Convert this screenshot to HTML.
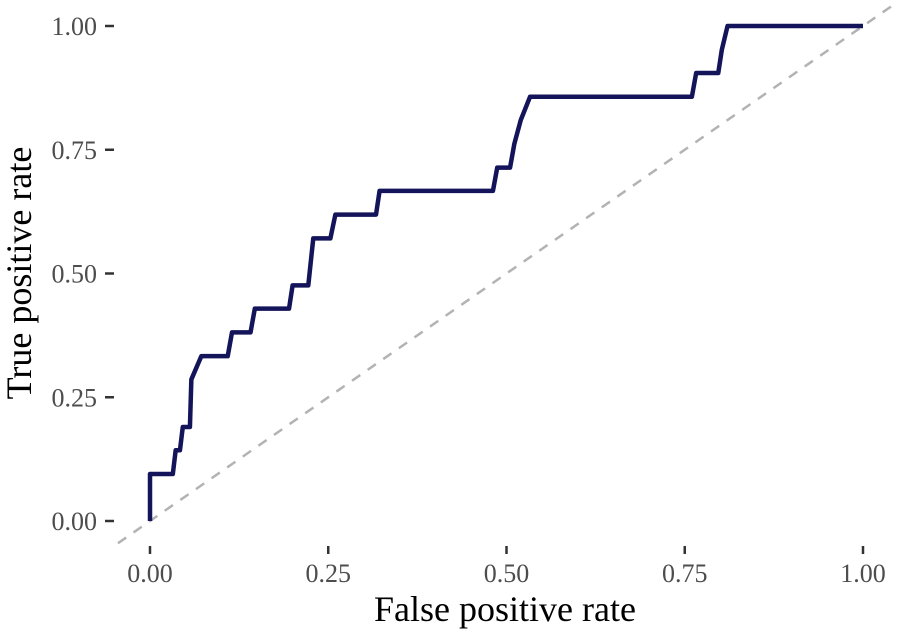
<!DOCTYPE html>
<html><head><meta charset="utf-8"><style>
body{margin:0;background:#fff}
svg text{font-family:"Liberation Serif",serif;fill:#4d4d4d}
</style></head><body>
<svg id="chart" width="902" height="634" xmlns="http://www.w3.org/2000/svg">
<text x="505" y="621" text-anchor="middle" font-size="36" style="fill:#000">False positive rate</text>
<text transform="translate(31,273) rotate(-90)" text-anchor="middle" font-size="36" style="fill:#000">True positive rate</text>
</svg>
<script>
const fpr=[0,0,0.032,0.036,0.042,0.046,0.056,0.058,0.072,0.109,0.115,0.141,0.147,0.195,0.2,0.222,0.229,0.253,0.26,0.317,0.322,0.481,0.487,0.505,0.511,0.52,0.533,0.76,0.766,0.797,0.802,0.81,1];
const tpr=[0,0.095,0.095,0.143,0.143,0.19,0.19,0.286,0.333,0.333,0.381,0.381,0.429,0.429,0.476,0.476,0.571,0.571,0.619,0.619,0.667,0.667,0.714,0.714,0.762,0.81,0.857,0.857,0.905,0.905,0.952,1,1];
const xTicks=[0,0.25,0.5,0.75,1];
const yTicks=[0,0.25,0.5,0.75,1];
const xTickLabels=["0.00","0.25","0.50","0.75","1.00"];
const yTickLabels=["0.00","0.25","0.50","0.75","1.00"];
const sx=v=>150+713*v, sy=v=>521-495*v;
const NS="http://www.w3.org/2000/svg", svg=document.getElementById('chart');
function mk(t,a){const e=document.createElementNS(NS,t);for(const k in a)e.setAttribute(k,a[k]);svg.appendChild(e);return e;}
xTicks.forEach((v,i)=>{
 const t=mk('line',{x1:sx(v),x2:sx(v),y1:546,y2:554,stroke:'#333','stroke-width':2.5});
 
 
 const l=mk('text',{x:sx(v),y:582,'text-anchor':'middle','font-size':26});l.textContent=xTickLabels[i];
 
 
});
yTicks.forEach((v,i)=>{
 const t=mk('line',{x1:105,x2:114,y1:sy(v),y2:sy(v),stroke:'#333','stroke-width':2.5});
 
 
 const l=mk('text',{x:97,y:sy(v)+9,'text-anchor':'end','font-size':26});l.textContent=yTickLabels[i];
 
 
});
const d=mk('line',{x1:sx(-0.045),y1:sy(-0.045),x2:sx(1.047),y2:sy(1.047),stroke:'#b3b3b3','stroke-width':2.5,'stroke-dasharray':'10 9'});


const p=mk('polyline',{points:fpr.map((v,i)=>sx(v)+','+sy(tpr[i])).join(' '),fill:'none',stroke:'#14145a','stroke-width':4.5,'stroke-linejoin':'round'});


</script>
</body></html>
